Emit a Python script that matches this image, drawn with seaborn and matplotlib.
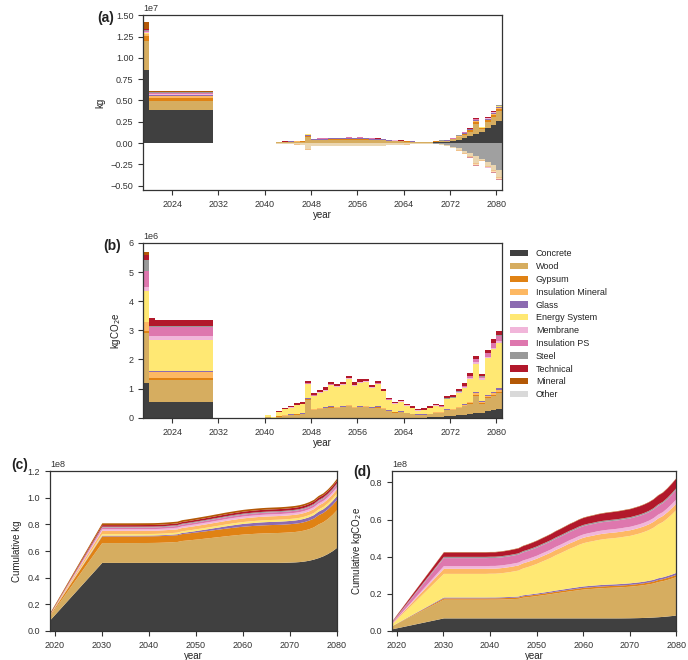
import numpy as np
import pandas as pd
import matplotlib
matplotlib.use("Agg")
import matplotlib.pyplot as plt
from matplotlib.patches import Patch
from matplotlib.ticker import MultipleLocator
from matplotlib.colors import to_rgb
import seaborn as sns

# ---------------------------------------------------------------- data
YEARS = list(range(2019, 2081))          # 62 annual bins
EDGES = list(range(2019, 2082))

MATERIALS = ["Concrete", "Wood", "Gypsum", "Insulation Mineral", "Glass",
             "Energy System", "Membrane", "Insulation PS", "Steel",
             "Technical", "Mineral", "Other"]
COLORS = ["#404040", "#d6ad60", "#e08214", "#fdb863", "#8c6bb1",
          "#ffe873", "#f1b6da", "#de77ae", "#999999",
          "#b2182b", "#b35806", "#d9d9d9"]
# stacking order of the cumulative areas
CUM_ORDER = ["Concrete", "Wood", "Gypsum", "Glass", "Energy System",
             "Insulation Mineral", "Membrane", "Insulation PS", "Steel",
             "Technical", "Mineral"]

# material inflow, million kg per year (2019, 2020s, 2030s, ..., 2070s, 2080)
KG_IN_CONCRETE = [
    8.6,
    3.9, 3.9, 3.9, 3.9, 3.9, 3.9, 3.9, 3.9, 3.9, 3.9,
    3.9, 0, 0, 0, 0, 0, 0, 0, 0, 0,
    0, 0, 0, 0, 0, 0, 0, 0, 0, 0,
    0, 0, 0, 0, 0, 0, 0, 0, 0, 0,
    0, 0, 0, 0, 0, 0, 0, 0, 0.03, 0.08,
    0.12, 0.15, 0.25, 0.4, 0.6, 0.85, 1.1, 1.35, 1.75, 2.15,
    2.65]
KG_IN_WOOD = [
    3.35,
    1.05, 1.05, 1.05, 1.05, 1.05, 1.05, 1.05, 1.05, 1.05, 1.05,
    1.05, 0, 0, 0, 0, 0, 0.01, 0.01, 0.015, 0.02,
    0.025, 0.04, 0.08, 0.12, 0.15, 0.17, 0.19, 0.75, 0.32, 0.36,
    0.36, 0.38, 0.38, 0.38, 0.42, 0.38, 0.42, 0.38, 0.36, 0.35,
    0.32, 0.25, 0.21, 0.2, 0.17, 0.14, 0.1, 0.08, 0.08, 0.1,
    0.11, 0.12, 0.18, 0.3, 0.38, 0.5, 1.1, 0.3, 0.75, 0.95,
    1.1]
KG_IN_GYPSUM = [
    0.6,
    0.4, 0.4, 0.4, 0.4, 0.4, 0.4, 0.4, 0.4, 0.4, 0.4,
    0.4, 0, 0, 0, 0, 0, 0, 0, 0, 0,
    0, 0, 0.01, 0.015, 0.02, 0.02, 0.025, 0.1, 0.05, 0.05,
    0.05, 0.06, 0.06, 0.06, 0.07, 0.06, 0.07, 0.06, 0.05, 0.05,
    0.05, 0.04, 0.03, 0.03, 0.03, 0.02, 0.02, 0.015, 0.015, 0.02,
    0.02, 0.03, 0.05, 0.08, 0.12, 0.16, 0.3, 0.1, 0.2, 0.25,
    0.3]
KG_IN_INSMIN = [
    0.25,
    0.2, 0.2, 0.2, 0.2, 0.2, 0.2, 0.2, 0.2, 0.2, 0.2,
    0.2, 0, 0, 0, 0, 0, 0, 0, 0, 0,
    0, 0, 0, 0.005, 0.01, 0.01, 0.01, 0.03, 0.015, 0.015,
    0.015, 0.015, 0.015, 0.015, 0.02, 0.015, 0.02, 0.015, 0.015, 0.015,
    0.01, 0.01, 0.01, 0.01, 0.005, 0.005, 0.005, 0.005, 0.005, 0.005,
    0.01, 0.01, 0.01, 0.02, 0.03, 0.04, 0.08, 0.03, 0.06, 0.07,
    0.08]
KG_IN_GLASS = [
    0.05,
    0.05, 0.05, 0.05, 0.05, 0.05, 0.05, 0.05, 0.05, 0.05, 0.05,
    0.05, 0, 0, 0, 0, 0, 0, 0, 0, 0,
    0, 0, 0.01, 0.02, 0.03, 0.03, 0.04, 0.12, 0.08, 0.09,
    0.09, 0.1, 0.1, 0.1, 0.11, 0.1, 0.11, 0.1, 0.09, 0.09,
    0.08, 0.06, 0.05, 0.05, 0.04, 0.03, 0.02, 0.02, 0.02, 0.02,
    0.02, 0.02, 0.03, 0.04, 0.05, 0.06, 0.1, 0.04, 0.08, 0.1,
    0.12]
KG_IN_ENERGY = [
    0.05,
    0.1, 0.1, 0.1, 0.1, 0.1, 0.1, 0.1, 0.1, 0.1, 0.1,
    0.1, 0, 0, 0, 0, 0, 0, 0, 0, 0,
    0, 0, 0.01, 0.01, 0.01, 0.01, 0.01, 0.02, 0.015, 0.015,
    0.015, 0.015, 0.015, 0.015, 0.02, 0.015, 0.02, 0.015, 0.015, 0.015,
    0.01, 0.01, 0.01, 0.01, 0.01, 0.005, 0.005, 0.005, 0.005, 0.005,
    0.01, 0.01, 0.01, 0.015, 0.02, 0.03, 0.05, 0.03, 0.04, 0.05,
    0.05]
KG_IN_MEMBRANE = [
    0.1,
    0.1, 0.1, 0.1, 0.1, 0.1, 0.1, 0.1, 0.1, 0.1, 0.1,
    0.1, 0, 0, 0, 0, 0, 0, 0, 0, 0,
    0, 0, 0.005, 0.01, 0.01, 0.01, 0.01, 0.02, 0.01, 0.01,
    0.01, 0.01, 0.01, 0.01, 0.015, 0.01, 0.015, 0.01, 0.01, 0.01,
    0.01, 0.01, 0.01, 0.005, 0.005, 0.005, 0.005, 0.005, 0.005, 0.005,
    0.01, 0.01, 0.01, 0.015, 0.02, 0.02, 0.04, 0.02, 0.03, 0.04,
    0.04]
KG_IN_INSPS = [
    0.15,
    0.1, 0.1, 0.1, 0.1, 0.1, 0.1, 0.1, 0.1, 0.1, 0.1,
    0.1, 0, 0, 0, 0, 0, 0, 0, 0, 0,
    0, 0, 0.005, 0.01, 0.01, 0.01, 0.01, 0.02, 0.01, 0.01,
    0.01, 0.01, 0.01, 0.01, 0.015, 0.01, 0.015, 0.01, 0.01, 0.01,
    0.01, 0.01, 0.01, 0.005, 0.005, 0.005, 0.005, 0.005, 0.005, 0.005,
    0.01, 0.01, 0.02, 0.02, 0.03, 0.03, 0.06, 0.03, 0.05, 0.06,
    0.06]
KG_IN_STEEL = [
    0.1,
    0.05, 0.05, 0.05, 0.05, 0.05, 0.05, 0.05, 0.05, 0.05, 0.05,
    0.05, 0, 0, 0, 0, 0, 0, 0, 0, 0,
    0, 0, 0, 0, 0, 0, 0, 0.01, 0.005, 0.005,
    0.005, 0.005, 0.005, 0.005, 0.005, 0.005, 0.005, 0.005, 0.005, 0.005,
    0.005, 0, 0, 0, 0, 0, 0, 0, 0, 0,
    0.005, 0.005, 0.01, 0.01, 0.01, 0.015, 0.03, 0.01, 0.02, 0.02,
    0.03]
KG_IN_TECHNICAL = [
    0.1,
    0.1, 0.1, 0.1, 0.1, 0.1, 0.1, 0.1, 0.1, 0.1, 0.1,
    0.1, 0, 0, 0, 0, 0, 0, 0, 0, 0,
    0, 0, 0.01, 0.01, 0.01, 0.01, 0.01, 0.02, 0.015, 0.015,
    0.015, 0.015, 0.015, 0.015, 0.02, 0.015, 0.02, 0.015, 0.015, 0.015,
    0.01, 0.01, 0.01, 0.01, 0.01, 0.005, 0.005, 0.005, 0.005, 0.005,
    0.01, 0.01, 0.02, 0.02, 0.03, 0.03, 0.06, 0.03, 0.05, 0.06,
    0.06]
KG_IN_MINERAL = [
    0.8,
    0.05, 0.05, 0.05, 0.05, 0.05, 0.05, 0.05, 0.05, 0.05, 0.05,
    0.05, 0, 0, 0, 0, 0, 0, 0, 0, 0,
    0, 0, 0, 0, 0, 0, 0, 0, 0, 0,
    0, 0, 0, 0, 0, 0, 0, 0, 0, 0,
    0, 0, 0, 0, 0, 0, 0, 0, 0, 0,
    0, 0, 0, 0, 0, 0, 0.01, 0, 0.01, 0.01,
    0.02]

# material outflow (demolition), million kg per year
KG_OUT_CONCRETE = [
    0,
    0, 0, 0, 0, 0, 0, 0, 0, 0, 0,
    0, 0, 0, 0, 0, 0, 0, 0, 0, 0,
    0, 0, 0, 0, 0, 0, 0, 0, 0, 0,
    0, 0, 0, 0, 0, 0, 0, 0, 0, 0,
    0, 0, 0, 0, 0, 0, -0.01, -0.02, -0.04, -0.06,
    -0.1, -0.2, -0.4, -0.6, -0.9, -1.2, -1.5, -1.8, -2.2, -2.6,
    -3.2]
KG_OUT_WOOD = [
    0,
    0, 0, 0, 0, 0, 0, 0, 0, 0, 0,
    0, 0, 0, 0, 0, 0, -0.01, -0.01, -0.01, -0.015,
    -0.02, -0.03, -0.06, -0.1, -0.12, -0.15, -0.17, -0.7, -0.28, -0.3,
    -0.32, -0.33, -0.33, -0.34, -0.36, -0.34, -0.36, -0.34, -0.32, -0.3,
    -0.28, -0.22, -0.18, -0.17, -0.15, -0.12, -0.09, -0.07, -0.06, -0.07,
    -0.08, -0.12, -0.15, -0.22, -0.3, -0.35, -0.85, -0.2, -0.5, -0.6,
    -0.75]
KG_OUT_GYPSUM = [
    0,
    0, 0, 0, 0, 0, 0, 0, 0, 0, 0,
    0, 0, 0, 0, 0, 0, 0, 0, 0, 0,
    0, 0, 0, -0.01, -0.01, -0.02, -0.02, -0.06, -0.03, -0.03,
    -0.03, -0.03, -0.03, -0.03, -0.03, -0.03, -0.03, -0.03, -0.03, -0.03,
    -0.03, -0.02, -0.02, -0.02, -0.02, -0.01, -0.01, -0.01, -0.01, -0.01,
    -0.01, -0.02, -0.03, -0.05, -0.06, -0.08, -0.15, -0.05, -0.1, -0.12,
    -0.15]
KG_OUT_INSMIN = [
    0,
    0, 0, 0, 0, 0, 0, 0, 0, 0, 0,
    0, 0, 0, 0, 0, 0, 0, 0, 0, 0,
    0, 0, 0, 0, 0, 0, 0, 0, 0, 0,
    0, 0, 0, 0, 0, 0, 0, 0, 0, 0,
    0, 0, 0, 0, 0, 0, 0, 0, 0, 0,
    0, 0, -0.01, -0.01, -0.02, -0.02, -0.04, -0.02, -0.03, -0.04,
    -0.05]
KG_OUT_INSPS = [
    0,
    0, 0, 0, 0, 0, 0, 0, 0, 0, 0,
    0, 0, 0, 0, 0, 0, 0, 0, 0, 0,
    0, 0, 0, 0, 0, 0, 0, 0, 0, 0,
    0, 0, 0, 0, 0, 0, 0, 0, 0, 0,
    0, 0, 0, 0, 0, 0, 0, 0, 0, 0,
    0, 0, 0, -0.01, -0.02, -0.03, -0.05, -0.03, -0.04, -0.05,
    -0.06]
KG_OUT_TECHNICAL = [
    0,
    0, 0, 0, 0, 0, 0, 0, 0, 0, 0,
    0, 0, 0, 0, 0, 0, 0, 0, 0, 0,
    0, 0, 0, 0, 0, 0, 0, 0, 0, 0,
    0, 0, 0, 0, 0, 0, 0, 0, 0, 0,
    0, 0, 0, 0, 0, 0, 0, 0, 0, 0,
    0, 0, 0, 0, -0.01, -0.02, -0.03, -0.02, -0.03, -0.04,
    -0.05]

# embodied emissions of the inflow, million kgCO2e per year
CO2_CONCRETE = [
    1.2,
    0.53, 0.53, 0.53, 0.53, 0.53, 0.53, 0.53, 0.53, 0.53, 0.53,
    0.53, 0, 0, 0, 0, 0, 0, 0, 0, 0,
    0, 0, 0, 0, 0, 0, 0, 0, 0, 0,
    0, 0, 0, 0, 0, 0, 0, 0, 0, 0,
    0, 0, 0, 0, 0, 0, 0, 0, 0.01, 0.02,
    0.03, 0.05, 0.06, 0.08, 0.1, 0.12, 0.15, 0.18, 0.22, 0.26,
    0.3]
CO2_WOOD = [
    1.72,
    0.76, 0.76, 0.76, 0.76, 0.76, 0.76, 0.76, 0.76, 0.76, 0.76,
    0.76, 0, 0, 0, 0, 0, 0, 0, 0, 0,
    0.02, 0.005, 0.04, 0.07, 0.09, 0.11, 0.12, 0.6, 0.27, 0.3,
    0.32, 0.35, 0.34, 0.36, 0.4, 0.34, 0.36, 0.37, 0.33, 0.35,
    0.3, 0.22, 0.18, 0.2, 0.16, 0.13, 0.1, 0.1, 0.12, 0.15,
    0.14, 0.2, 0.2, 0.25, 0.3, 0.35, 0.6, 0.3, 0.45, 0.5,
    0.55]
CO2_GYPSUM = [
    0.05,
    0.06, 0.06, 0.06, 0.06, 0.06, 0.06, 0.06, 0.06, 0.06, 0.06,
    0.06, 0, 0, 0, 0, 0, 0, 0, 0, 0,
    0, 0, 0.005, 0.005, 0.005, 0.01, 0.01, 0.03, 0.01, 0.01,
    0.01, 0.01, 0.01, 0.01, 0.015, 0.01, 0.01, 0.01, 0.01, 0.01,
    0.01, 0.01, 0.005, 0.005, 0.005, 0.005, 0.005, 0.005, 0.005, 0.005,
    0.01, 0.01, 0.01, 0.015, 0.02, 0.02, 0.04, 0.02, 0.03, 0.035,
    0.04]
CO2_INSMIN = [
    0.3,
    0.22, 0.22, 0.22, 0.22, 0.22, 0.22, 0.22, 0.22, 0.22, 0.22,
    0.22, 0, 0, 0, 0, 0, 0, 0, 0, 0,
    0, 0, 0.005, 0.005, 0.01, 0.01, 0.01, 0.02, 0.01, 0.01,
    0.01, 0.015, 0.015, 0.015, 0.015, 0.015, 0.015, 0.015, 0.01, 0.015,
    0.01, 0.01, 0.005, 0.005, 0.005, 0.005, 0.005, 0.005, 0.005, 0.01,
    0.01, 0.015, 0.015, 0.02, 0.03, 0.04, 0.07, 0.04, 0.06, 0.07,
    0.08]
CO2_GLASS = [
    0.03,
    0.04, 0.04, 0.04, 0.04, 0.04, 0.04, 0.04, 0.04, 0.04, 0.04,
    0.04, 0, 0, 0, 0, 0, 0, 0, 0, 0,
    0, 0, 0.005, 0.005, 0.01, 0.01, 0.01, 0.02, 0.015, 0.015,
    0.015, 0.02, 0.02, 0.02, 0.02, 0.02, 0.02, 0.02, 0.015, 0.02,
    0.015, 0.01, 0.01, 0.01, 0.005, 0.005, 0.005, 0.005, 0.005, 0.01,
    0.01, 0.01, 0.01, 0.015, 0.02, 0.02, 0.04, 0.02, 0.03, 0.035,
    0.04]
CO2_ENERGY = [
    1.05,
    1.06, 1.06, 1.06, 1.06, 1.06, 1.06, 1.06, 1.06, 1.06, 1.06,
    1.06, 0, 0, 0, 0, 0, 0, 0, 0, 0,
    0.07, 0.005, 0.13, 0.2, 0.23, 0.3, 0.32, 0.48, 0.44, 0.52,
    0.58, 0.72, 0.68, 0.72, 0.88, 0.72, 0.8, 0.82, 0.66, 0.76,
    0.57, 0.36, 0.28, 0.33, 0.24, 0.18, 0.13, 0.14, 0.18, 0.22,
    0.17, 0.35, 0.37, 0.48, 0.55, 0.78, 0.95, 0.75, 1.25, 1.45,
    1.55]
CO2_MEMBRANE = [
    0.15,
    0.12, 0.12, 0.12, 0.12, 0.12, 0.12, 0.12, 0.12, 0.12, 0.12,
    0.12, 0, 0, 0, 0, 0, 0, 0, 0, 0,
    0, 0, 0.01, 0.01, 0.01, 0.01, 0.01, 0.02, 0.015, 0.015,
    0.015, 0.02, 0.02, 0.02, 0.02, 0.02, 0.02, 0.02, 0.015, 0.02,
    0.015, 0.015, 0.01, 0.01, 0.01, 0.01, 0.01, 0.01, 0.01, 0.01,
    0.01, 0.015, 0.015, 0.02, 0.03, 0.04, 0.05, 0.04, 0.05, 0.06,
    0.07]
CO2_INSPS = [
    0.55,
    0.34, 0.34, 0.34, 0.34, 0.34, 0.34, 0.34, 0.34, 0.34, 0.34,
    0.34, 0, 0, 0, 0, 0, 0, 0, 0, 0,
    0, 0, 0.005, 0.005, 0.005, 0.005, 0.005, 0.01, 0.01, 0.01,
    0.01, 0.01, 0.01, 0.01, 0.01, 0.01, 0.01, 0.01, 0.01, 0.01,
    0.005, 0.005, 0.005, 0.005, 0.005, 0.005, 0.005, 0.005, 0.005, 0.005,
    0.01, 0.01, 0.015, 0.02, 0.04, 0.06, 0.1, 0.06, 0.12, 0.15,
    0.18]
CO2_STEEL = [
    0.35,
    0.03, 0.03, 0.03, 0.03, 0.03, 0.03, 0.03, 0.03, 0.03, 0.03,
    0.03, 0, 0, 0, 0, 0, 0, 0, 0, 0,
    0, 0, 0, 0, 0, 0, 0, 0, 0, 0,
    0, 0, 0, 0, 0, 0, 0, 0, 0, 0,
    0, 0, 0, 0, 0, 0, 0, 0, 0, 0,
    0.005, 0.005, 0.005, 0.01, 0.01, 0.01, 0.02, 0.01, 0.015, 0.02,
    0.02]
CO2_TECHNICAL = [
    0.18,
    0.26, 0.19, 0.19, 0.19, 0.19, 0.19, 0.19, 0.19, 0.19, 0.19,
    0.19, 0, 0, 0, 0, 0, 0, 0, 0, 0,
    0.01, 0, 0.04, 0.05, 0.06, 0.06, 0.06, 0.08, 0.08, 0.08,
    0.08, 0.08, 0.08, 0.08, 0.09, 0.08, 0.08, 0.08, 0.08, 0.08,
    0.07, 0.06, 0.06, 0.06, 0.05, 0.05, 0.05, 0.05, 0.05, 0.05,
    0.05, 0.07, 0.07, 0.07, 0.08, 0.09, 0.1, 0.09, 0.11, 0.12,
    0.13]
CO2_MINERAL = [
    0.1,
    0.01, 0.01, 0.01, 0.01, 0.01, 0.01, 0.01, 0.01, 0.01, 0.01,
    0.01, 0, 0, 0, 0, 0, 0, 0, 0, 0,
    0, 0, 0, 0, 0, 0, 0, 0, 0, 0,
    0, 0, 0, 0, 0, 0, 0, 0, 0, 0,
    0, 0, 0, 0, 0, 0, 0, 0, 0, 0,
    0, 0, 0, 0, 0, 0, 0, 0, 0, 0,
    0]

KG_IN = {
    "Concrete": KG_IN_CONCRETE, "Wood": KG_IN_WOOD, "Gypsum": KG_IN_GYPSUM,
    "Insulation Mineral": KG_IN_INSMIN, "Glass": KG_IN_GLASS,
    "Energy System": KG_IN_ENERGY, "Membrane": KG_IN_MEMBRANE,
    "Insulation PS": KG_IN_INSPS, "Steel": KG_IN_STEEL,
    "Technical": KG_IN_TECHNICAL, "Mineral": KG_IN_MINERAL,
}
KG_OUT = {
    "Concrete": KG_OUT_CONCRETE, "Wood": KG_OUT_WOOD, "Gypsum": KG_OUT_GYPSUM,
    "Insulation Mineral": KG_OUT_INSMIN, "Insulation PS": KG_OUT_INSPS,
    "Technical": KG_OUT_TECHNICAL,
}
CO2_IN = {
    "Concrete": CO2_CONCRETE, "Wood": CO2_WOOD, "Gypsum": CO2_GYPSUM,
    "Insulation Mineral": CO2_INSMIN, "Glass": CO2_GLASS,
    "Energy System": CO2_ENERGY, "Membrane": CO2_MEMBRANE,
    "Insulation PS": CO2_INSPS, "Steel": CO2_STEEL,
    "Technical": CO2_TECHNICAL, "Mineral": CO2_MINERAL,
}

PALETTE = dict(zip(MATERIALS, COLORS))


def lighten(color, amount):
    r, g, b = to_rgb(color)
    return (1 - amount * (1 - r), 1 - amount * (1 - g), 1 - amount * (1 - b))


PALETTE_OUT = {m: lighten(c, 0.5) for m, c in PALETTE.items()}


def long_frame(series):
    frames = []
    for name, vals in series.items():
        assert len(vals) == len(YEARS), name
        frames.append(pd.DataFrame({"year": YEARS, "material": name,
                                    "value": np.asarray(vals, float) * 1e6}))
    return pd.concat(frames, ignore_index=True)


# ---------------------------------------------------------------- style
sns.set_theme(style="ticks")
plt.rcParams["font.family"] = ["Liberation Sans", "DejaVu Sans"]
INK = "#333333"
plt.rcParams.update({
    "axes.edgecolor": INK, "axes.linewidth": 0.9,
    "xtick.color": INK, "ytick.color": INK,
    "xtick.labelsize": 6.5, "ytick.labelsize": 6.5,
    "xtick.major.size": 3.5, "ytick.major.size": 3.5,
    "xtick.major.width": 0.8, "ytick.major.width": 0.8,
    "axes.labelsize": 7, "axes.labelcolor": "#222222",
    "text.color": "#222222",
})

fig = plt.figure(figsize=(6.88, 6.60), dpi=100)
ax_a = fig.add_axes([0.208, 0.712, 0.522, 0.265])
ax_b = fig.add_axes([0.208, 0.367, 0.522, 0.265])
ax_c = fig.add_axes([0.0727, 0.044, 0.417, 0.242])
ax_d = fig.add_axes([0.570, 0.044, 0.413, 0.242])

hue_order = MATERIALS[::-1]   # seaborn stacks the last level at the bottom


def stacked_hist(ax, df, palette):
    sns.histplot(data=df, x="year", weights="value", hue="material",
                 hue_order=hue_order, palette=palette, multiple="stack",
                 bins=EDGES, alpha=1, linewidth=0, legend=False, ax=ax)


# (a) annual inflow / outflow mass
stacked_hist(ax_a, long_frame(KG_IN), PALETTE)
stacked_hist(ax_a, long_frame(KG_OUT), PALETTE_OUT)
ax_a.set_ylim(-0.55e7, 1.5e7)
ax_a.yaxis.set_major_locator(MultipleLocator(0.25e7))
ax_a.set_ylabel("kg")

# (b) annual embodied emissions
stacked_hist(ax_b, long_frame(CO2_IN), PALETTE)
ax_b.set_ylim(0, 6e6)
ax_b.yaxis.set_major_locator(MultipleLocator(1e6))
ax_b.set_ylabel("kgCO$_2$e")

for ax in (ax_a, ax_b):
    ax.set_xlim(2019, 2081)
    ax.set_xticks(range(2024, 2081, 8))
    ax.set_xlabel("year", labelpad=1)

# (c), (d) cumulative stacks
cum_kg = [np.cumsum(KG_IN[m]) * 1e6 for m in CUM_ORDER]
cum_co2 = [np.cumsum(CO2_IN[m]) * 1e6 for m in CUM_ORDER]
cum_colors = [PALETTE[m] for m in CUM_ORDER]
ax_c.stackplot(YEARS, *cum_kg, colors=cum_colors, linewidth=0)
ax_d.stackplot(YEARS, *cum_co2, colors=cum_colors, linewidth=0)
ax_c.set_ylim(0, 1.2e8)
ax_d.set_ylim(0, 0.86e8)
ax_c.set_ylabel("Cumulative kg")
ax_d.set_ylabel("Cumulative kgCO$_2$e")
for ax in (ax_c, ax_d):
    ax.set_xlim(2019, 2080)
    ax.set_xticks(range(2020, 2081, 10))
    ax.yaxis.set_major_locator(MultipleLocator(0.2e8))
    ax.ticklabel_format(axis="y", style="sci", scilimits=(8, 8))
    ax.set_xlabel("year", labelpad=1)

for ax in (ax_a, ax_b, ax_c, ax_d):
    ax.yaxis.get_offset_text().set_fontsize(6.5)

# legend shared by all panels
handles = [Patch(facecolor=c, edgecolor="none", label=m)
           for m, c in zip(MATERIALS, COLORS)]
fig.legend(handles=handles, loc="upper left", bbox_to_anchor=(0.741, 0.622),
           frameon=False, fontsize=6.5, handlelength=2.0, handleheight=0.7,
           handletextpad=0.9, labelspacing=0.42, borderpad=0,
           borderaxespad=0)

# panel letters
for label, x, y in [("(a)", 0.142, 0.973), ("(b)", 0.150, 0.628),
                    ("(c)", 0.016, 0.295), ("(d)", 0.513, 0.285)]:
    fig.text(x, y, label, fontsize=10, fontweight="bold",
             ha="left", va="center")

fig.savefig("out.png", dpi=100)
